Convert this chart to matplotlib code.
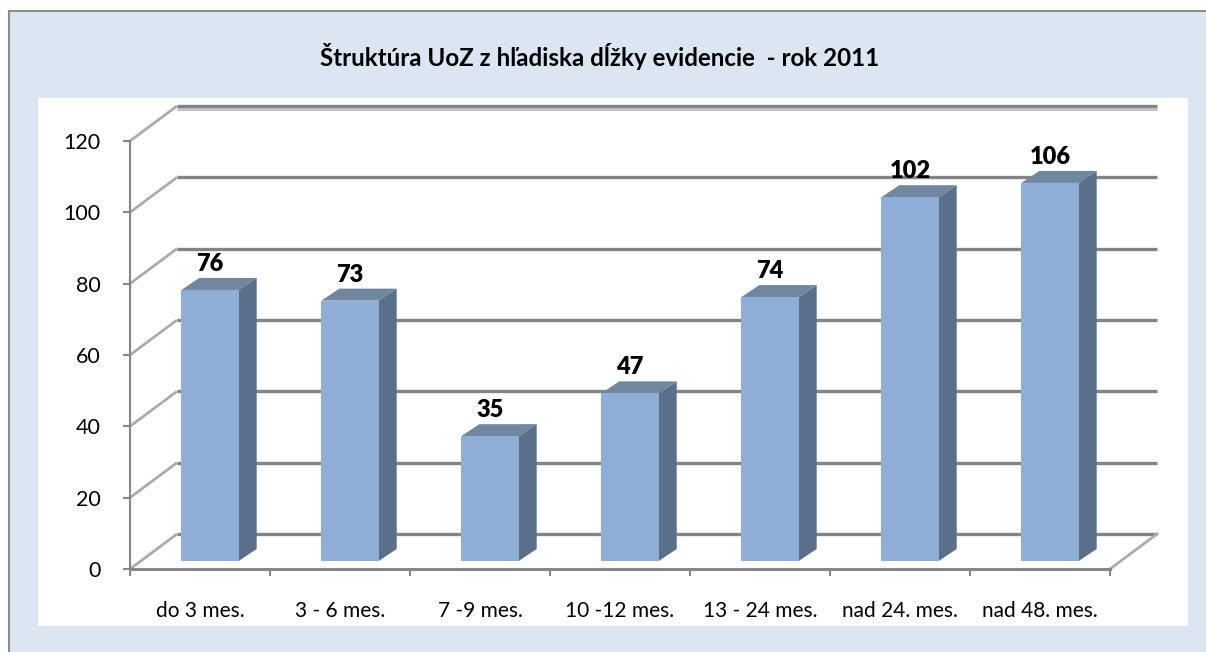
import numpy as np
import matplotlib
matplotlib.use("Agg")
import matplotlib.pyplot as plt
from matplotlib.patches import Rectangle, Polygon

categories = ["do 3 mes.", "3 - 6 mes.", "7 -9 mes.", "10 -12 mes.",
              "13 - 24 mes.", "nad 24. mes.", "nad 48. mes."]
values = [76, 73, 35, 47, 74, 102, 106]
yticks = [0, 20, 40, 60, 80, 100, 120]
title = "Štruktúra UoZ z hľadiska dĺžky evidencie  - rok 2011"

W, H = 1206, 652
plt.rcParams["font.family"] = ["Lato", "DejaVu Sans"]
fig = plt.figure(figsize=(W / 100, H / 100), dpi=100)
fig.patch.set_facecolor("white")

# chart frame (light blue) and white plot area
fig.add_artist(Rectangle((9 / W, -0.05), 1.0, (H - 11) / H + 0.05,
                         transform=fig.transFigure, facecolor="#DCE6F2",
                         edgecolor="#8C8C8C", lw=1.5, zorder=-2))
fig.add_artist(Rectangle((38 / W, (H - 626) / H), (1188 - 38) / W, (626 - 98) / H,
                         transform=fig.transFigure, facecolor="white",
                         edgecolor="none", zorder=-1))
fig.text(600 / W, 1 - 57 / H, title, ha="center", va="center",
         fontsize=17.4, fontweight="bold")

# axes = front plane of the 3D box
ax = fig.add_axes([130 / W, (H - 569) / H, 980 / W, 428 / H])
ax.set_xlim(-0.5, len(categories) - 0.5)
ax.set_ylim(0, 120)
ax.patch.set_visible(False)
for s in ["top", "right"]:
    ax.spines[s].set_visible(False)
ax.spines["left"].set_color("#868686")
ax.spines["left"].set_linewidth(1.5)
ax.spines["bottom"].set_color("#868686")
ax.spines["bottom"].set_linewidth(2.2)

GRID = "#848484"
WALL = np.array([47.0, 35.0])      # depth of the box in pixels
BAR_FRONT = np.array([10.0, 8.0])  # bar front face offset
BAR_DEPTH = np.array([18.0, 12.0])


def proj(x, y, off):
    p = ax.transData.transform((x, y)) + off
    return ax.transData.inverted().transform(p)


x0, x1 = -0.5, len(categories) - 0.5
# side wall diagonals and back wall gridlines
for v in yticks:
    a = proj(x0, v, 0)
    b = proj(x0, v, WALL)
    c = proj(x1, v, WALL)
    ax.plot([a[0], b[0]], [a[1], b[1]], color="#ABABAB", lw=2, clip_on=False,
            solid_capstyle="butt")
    ax.plot([b[0], c[0]], [b[1], c[1]], color=GRID, lw=2.4, clip_on=False,
            solid_capstyle="butt")
top_b = proj(x0, yticks[-1], WALL + [0, -2.5])
top_c = proj(x1, yticks[-1], WALL + [0, -2.5])
ax.plot([top_b[0], top_c[0]], [top_b[1], top_c[1]], color="#BFBFBF", lw=2.2,
        clip_on=False, solid_capstyle="butt")
# floor right edge
a = proj(x1, 0, 0)
b = proj(x1, 0, WALL)
ax.plot([a[0], b[0]], [a[1], b[1]], color="#ABABAB", lw=2, clip_on=False)

# bars
xs = np.arange(len(categories))
bw = 0.41
for xi, v in zip(xs, values):
    l, r = xi - bw / 2, xi + bw / 2
    f = [proj(l, 0, BAR_FRONT), proj(r, 0, BAR_FRONT),
         proj(r, v, BAR_FRONT), proj(l, v, BAR_FRONT)]
    side = [proj(r, 0, BAR_FRONT), proj(r, 0, BAR_FRONT + BAR_DEPTH),
            proj(r, v, BAR_FRONT + BAR_DEPTH), proj(r, v, BAR_FRONT)]
    top = [proj(l, v, BAR_FRONT), proj(r, v, BAR_FRONT),
           proj(r, v, BAR_FRONT + BAR_DEPTH), proj(l, v, BAR_FRONT + BAR_DEPTH)]
    ax.add_patch(Polygon(side, closed=True, facecolor="#5A6F8A", edgecolor="none",
                         clip_on=False, zorder=3))
    ax.add_patch(Polygon(top, closed=True, facecolor="#71869F", edgecolor="none",
                         clip_on=False, zorder=3))
    ax.add_patch(Polygon(f, closed=True, facecolor="#8FAED6", edgecolor="none",
                         clip_on=False, zorder=3))
    lab = proj(xi, v, BAR_FRONT + [0, BAR_DEPTH[1] + 3])
    ax.text(lab[0], lab[1], str(v), ha="center", va="bottom", fontsize=17,
            fontweight="heavy", zorder=4)

ax.set_yticks(yticks)
ax.tick_params(axis="y", direction="out", length=5, width=1.5, color="#868686",
               labelsize=15.5, pad=16)
ax.set_xticks(xs)
ax.set_xticklabels(categories)
ax.set_xticks(np.arange(len(categories) + 1) - 0.5, minor=True)
ax.tick_params(axis="x", which="major", length=0, labelsize=15, pad=23)
ax.tick_params(axis="x", which="minor", direction="out", length=5, width=1.5,
               color="#868686")

fig.savefig("out.png", dpi=100)
